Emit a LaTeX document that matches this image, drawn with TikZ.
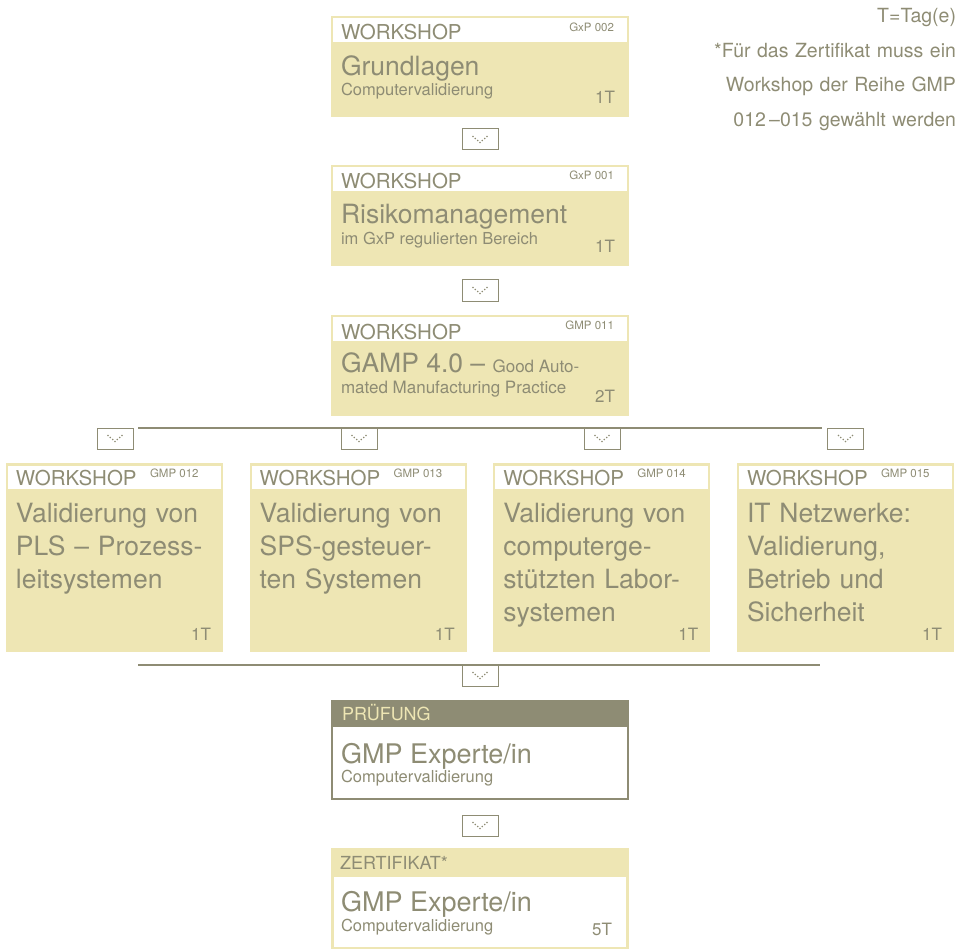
\documentclass[tikz,border=0pt]{standalone}
\usepackage{fontspec}
\setmainfont{TeX Gyre Heros}
\usetikzlibrary{calc}
\definecolor{ylw}{RGB}{238,230,180}
\definecolor{gry}{RGB}{142,140,116}
\tikzset{
  x=1pt, y=-1pt,
  boxbg/.style={fill=ylw, draw=none, inner sep=0pt, outer sep=0pt, anchor=north west, minimum width=298pt, minimum height=101pt},
  rowbg/.style={fill=ylw, draw=none, inner sep=0pt, outer sep=0pt, anchor=north west, minimum width=217pt, minimum height=189pt},
  txt/.style={text=gry, inner sep=0pt, outer sep=0pt, anchor=base west},
  txtr/.style={text=gry, inner sep=0pt, outer sep=0pt, anchor=base east},
  hdfont/.style={font=\fontsize{20.5}{24}\selectfont},
  codefont/.style={font=\fontsize{11.5}{14}\selectfont},
  titlefont/.style={font=\fontsize{26.5}{33}\selectfont},
  subfont/.style={font=\fontsize{16.5}{20}\selectfont},
  dayfont/.style={font=\fontsize{17}{20}\selectfont},
  arrbox/.style={draw=gry, fill=white, line width=1pt, minimum width=36pt, minimum height=21pt, inner sep=0pt, outer sep=0pt, anchor=north},
  conn/.style={draw=gry, line width=1.4pt},
  pics/chev/.style={code={\foreach \dx/\dy in {-7/-3,-4.7/-1,-2.3/1,0/3,2.3/1,4.7/-1,7/-3} \fill[gry] (\dx,\dy) circle (0.9);}}
}
\begin{document}
\begin{tikzpicture}
\useasboundingbox (0,0) rectangle (957,949);
% connector lines
\coordinate (l1a) at (138,428);
\coordinate (l1b) at (822,428);
\coordinate (l2a) at (138,665);
\coordinate (l2b) at (820,665);
\draw[conn] (l1a) -- (l1b);
\draw[conn] (l2a) -- (l2b);

% ---- top column boxes
\node[boxbg] (b1) at (331,16) {};
\fill[white] ($(b1.north west)+(2,2)$) rectangle ($(b1.north east)+(-2,26)$);
\node[txt,hdfont] (b1h) at ($(b1.north west)+(10,24)$) {WORKSHOP};
\node[txtr,codefont] (b1c) at ($(b1.north east)+(-15,16)$) {GxP 002};
\node[txt,titlefont] (b1t) at ($(b1.north west)+(10,60)$) {Grundlagen};
\node[txt,subfont] (b1s) at ($(b1.north west)+(10,80)$) {Computervalidierung};
\node[txtr,dayfont] (b1d) at ($(b1.north east)+(-14,88)$) {1T};

\node[boxbg] (b2) at (331,165) {};
\fill[white] ($(b2.north west)+(2,2)$) rectangle ($(b2.north east)+(-2,26)$);
\node[txt,hdfont] (b2h) at ($(b2.north west)+(10,24)$) {WORKSHOP};
\node[txtr,codefont] (b2c) at ($(b2.north east)+(-15,15)$) {GxP 001};
\node[txt,titlefont] (b2t) at ($(b2.north west)+(10,59)$) {Risikomanagement};
\node[txt,subfont] (b2s) at ($(b2.north west)+(10,80)$) {im GxP regulierten Bereich};
\node[txtr,dayfont] (b2d) at ($(b2.north east)+(-14,88)$) {1T};

\node[boxbg] (b3) at (331,315) {};
\fill[white] ($(b3.north west)+(2,2)$) rectangle ($(b3.north east)+(-2,26)$);
\node[txt,hdfont] (b3h) at ($(b3.north west)+(10,24)$) {WORKSHOP};
\node[txtr,codefont] (b3c) at ($(b3.north east)+(-15,14)$) {GMP 011};
\node[txt] (b3t) at ($(b3.north west)+(10,57.5)$) {{\fontsize{26.5}{30}\selectfont GAMP 4.0 –\ }{\fontsize{17}{20}\selectfont Good Auto-}};
\node[txt,font=\fontsize{17}{20}\selectfont] (b3s) at ($(b3.north west)+(10,78.5)$) {mated Manufacturing Practice};
\node[txtr,dayfont] (b3d) at ($(b3.north east)+(-14,87)$) {2T};

% ---- row of four workshops
\foreach \i/\xx/\code/\ttl in {
  1/6/GMP 012/{Validierung von\\PLS – Prozess-\\leitsystemen},
  2/249.7/GMP 013/{Validierung von\\SPS-gesteuer-\\ten Systemen},
  3/493.3/GMP 014/{Validierung von\\computerge-\\stützten Labor-\\systemen},
  4/737/GMP 015/{IT Netzwerke:\\Validierung,\\Betrieb und\\Sicherheit}}{
  \node[rowbg] (w\i) at (\xx,463) {};
  \fill[white] ($(w\i.north west)+(2,3)$) rectangle ($(w\i.north east)+(-2,26)$);
  \node[txt,hdfont] (w\i h) at ($(w\i.north west)+(10,22)$) {WORKSHOP};
  \node[txt,codefont] (w\i c) at ($(w\i.north west)+(144,14)$) {\code};
  \node[txt,titlefont,text width=205pt,align=left] (w\i t) at ($(w\i.north west)+(10,59.5)$) {\ttl};
  \node[txtr,dayfont] (w\i d) at ($(w\i.north east)+(-12,177)$) {1T};
}

% ---- Pruefung
\node[anchor=north west, fill=gry, inner sep=0pt, outer sep=0pt, minimum width=298pt, minimum height=100pt] (p) at (331,700) {};
\fill[white] ($(p.north west)+(2,27)$) rectangle ($(p.south east)+(-2,-2)$);
\node[txt,text=ylw,font=\fontsize{18}{22}\selectfont] (ph) at ($(p.north west)+(11,20)$) {PRÜFUNG};
\node[txt,font=\fontsize{27}{30}\selectfont] (pt) at ($(p.north west)+(10,63)$) {GMP Experte/in};
\node[txt,subfont] (ps) at ($(p.north west)+(10,82)$) {Computervalidierung};

% ---- Zertifikat
\node[anchor=north west, fill=ylw, inner sep=0pt, outer sep=0pt, minimum width=298pt, minimum height=101pt] (z) at (331,848) {};
\fill[white] ($(z.north west)+(3,29)$) rectangle ($(z.south east)+(-3,-2)$);
\node[txt,font=\fontsize{18}{22}\selectfont] (zh) at ($(z.north west)+(9,21)$) {ZERTIFIKAT*};
\node[txt,font=\fontsize{27}{30}\selectfont] (zt) at ($(z.north west)+(10,63)$) {GMP Experte/in};
\node[txt,subfont] (zs) at ($(z.north west)+(10,83)$) {Computervalidierung};
\node[txtr,dayfont] (zd) at ($(z.north east)+(-17,87)$) {5T};

% ---- arrow boxes
\node[arrbox] (a1) at (480,129) {};
\node[arrbox] (a2) at (480,280) {};
\node[arrbox] (r1) at (115,428) {};
\node[arrbox] (r2) at (359,428) {};
\node[arrbox] (r3) at (602,428) {};
\node[arrbox] (r4) at (845.5,428) {};
\node[arrbox] (a5) at (480,665) {};
\node[arrbox] (a6) at (480,815) {};
\foreach \n in {a1,a2,r1,r2,r3,r4,a5,a6}{\pic at (\n.center) {chev};}

% ---- note
\node[text=gry, inner sep=0pt, outer sep=0pt, anchor=base east, align=right, text width=280pt, font=\fontsize{19.5}{34.5}\selectfont] (note) at (956,23) {T=Tag(e)\\{}*Für das Zertifikat muss ein\\Workshop der Reihe GMP\\012\,–015 gewählt werden};
\end{tikzpicture}
\end{document}
